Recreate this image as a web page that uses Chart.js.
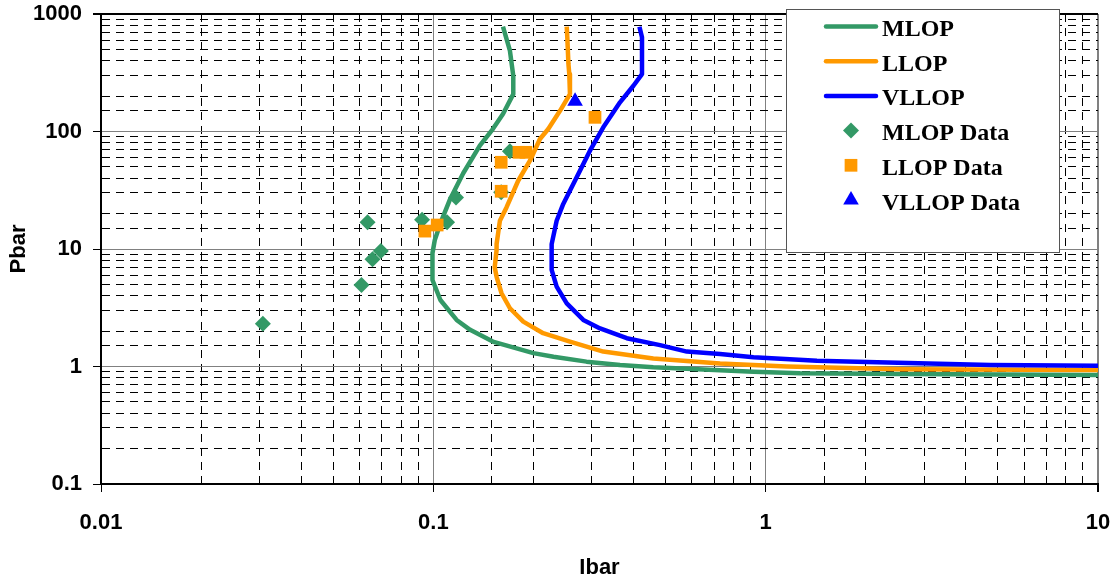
<!DOCTYPE html>
<html lang="en">
<head>
    <meta charset="UTF-8">
    <title>Pbar vs Ibar</title>
    <script src="https://cdn.jsdelivr.net/npm/chart.js"></script>
    <style>
        body {
            margin: 0;
            padding: 0;
            background: #fff;
        }
        .chart-container {
            position: relative;
            width: 1116px;
            height: 583px;
        }
    </style>
</head>
<body>
    <div class="chart-container">
        <canvas id="pbarChart"></canvas>
    </div>

    <script>
        // Model curves (Ibar on x, Pbar on y)
        const mlopIbar = [0.162, 0.170, 0.174, 0.174, 0.162, 0.151, 0.138, 0.123, 0.112, 0.105, 0.101, 0.0994, 0.0994, 0.105, 0.1175, 0.129, 0.151, 0.200, 0.230, 0.289, 0.3645, 0.459, 0.919, 1.27, 2.54, 10];
        const mlopPbar = [780, 487, 298, 208, 141, 105, 75.7, 44.1, 26.1, 16.5, 11.9, 9.2, 5.45, 3.68, 2.49, 2.05, 1.63, 1.30, 1.21, 1.10, 1.03, 0.984, 0.903, 0.875, 0.863, 0.847];

        const llopIbar = [0.252, 0.253, 0.255, 0.2565, 0.2577, 0.2405, 0.2217, 0.2093, 0.1953, 0.180, 0.166, 0.1586, 0.155, 0.155, 0.153, 0.155, 0.1604, 0.170, 0.1865, 0.214, 0.2577, 0.3246, 0.459, 0.729, 1.158, 2.54, 10];
        const llopPbar = [780, 634, 375, 308, 208, 150, 105, 86.3, 56.4, 38.1, 22.6, 17.4, 11.0, 9.8, 7.0, 5.8, 4.2, 3.13, 2.41, 1.92, 1.63, 1.34, 1.17, 1.06, 1.0, 0.946, 0.933];

        const vllopIbar = [0.417, 0.4245, 0.4245, 0.400, 0.3645, 0.3246, 0.296, 0.270, 0.246, 0.235, 0.227, 0.227, 0.227, 0.235, 0.252, 0.2827, 0.3175, 0.382, 0.481, 0.579, 0.729, 0.919, 1.426, 2.02, 4.75, 10];
        const vllopPbar = [780, 634, 308, 245, 177, 108.6, 68.7, 40.8, 24.2, 17.4, 11.0, 9.8, 6.63, 4.78, 3.45, 2.49, 2.11, 1.74, 1.52, 1.34, 1.28, 1.20, 1.12, 1.09, 1.03, 1.016];

        // Measured points
        const mlopDataIbar = [0.0307, 0.0608, 0.0656, 0.0695, 0.0634, 0.0925, 0.110, 0.117, 0.170, 0.160];
        const mlopDataPbar = [2.31, 4.94, 8.17, 9.6, 16.9, 17.7, 16.9, 27.5, 67.8, 30.4];

        const llopDataIbar = [0.0943, 0.1027, 0.160, 0.160, 0.181, 0.190, 0.3065];
        const llopDataPbar = [14.2, 16.0, 54.7, 31.0, 66.5, 66.5, 132];

        const vllopDataIbar = [0.267];
        const vllopDataPbar = [181];

        const xTickLabels = ['0.01', '0.1', '1', '10'];
        const yTickLabels = ['0.1', '1', '10', '100', '1000'];

        const green = '#339966';
        const orange = '#FF9900';
        const blue = '#0000FF';

        const pts = (xs, ys) => xs.map((x, i) => ({ x: x, y: ys[i] }));
        const fmt = v => String(+Number(v).toPrecision(6));
        const isMajor = v => Math.abs(Math.log10(v) - Math.round(Math.log10(v))) < 1e-6;

        const tickFont = { family: 'Liberation Sans, Arial, sans-serif', size: 22, weight: 'bold' };

        // Legend box drawn inside the plot, top right
        const legendItems = [
            { label: 'MLOP', color: green, kind: 'line' },
            { label: 'LLOP', color: orange, kind: 'line' },
            { label: 'VLLOP', color: blue, kind: 'line' },
            { label: 'MLOP Data', color: green, kind: 'rectRot', r: 8 },
            { label: 'LLOP Data', color: orange, kind: 'rect', r: 9 },
            { label: 'VLLOP Data', color: blue, kind: 'triangle', r: 9 }
        ];

        function drawMarker(ctx, kind, x, y, r) {
            ctx.beginPath();
            if (kind === 'rectRot') {
                ctx.moveTo(x - r, y);
                ctx.lineTo(x, y - r);
                ctx.lineTo(x + r, y);
                ctx.lineTo(x, y + r);
            } else if (kind === 'rect') {
                const s = r * Math.SQRT1_2;
                ctx.rect(x - s, y - s, 2 * s, 2 * s);
            } else {
                for (let k = 0; k < 3; k++) {
                    const a = k * 2 * Math.PI / 3;
                    const px = x + Math.sin(a) * r, py = y - Math.cos(a) * r;
                    if (k === 0) ctx.moveTo(px, py); else ctx.lineTo(px, py);
                }
            }
            ctx.closePath();
            ctx.fill();
        }

        const boxLegend = {
            id: 'boxLegend',
            afterDraw(chart) {
                const ctx = chart.ctx;
                ctx.save();
                ctx.fillStyle = '#fff';
                ctx.fillRect(786.5, 9.5, 273, 243);
                ctx.strokeStyle = '#555';
                ctx.lineWidth = 1;
                ctx.strokeRect(786.5, 9.5, 273, 243);

                ctx.font = 'bold 24px "Liberation Serif", "Times New Roman", serif';
                ctx.textAlign = 'left';
                ctx.textBaseline = 'alphabetic';
                legendItems.forEach((item, i) => {
                    const yy = 26.5 + 34.7 * i;
                    if (item.kind === 'line') {
                        ctx.strokeStyle = item.color;
                        ctx.lineWidth = 4.5;
                        ctx.lineCap = 'round';
                        ctx.beginPath();
                        ctx.moveTo(826, yy);
                        ctx.lineTo(876, yy);
                        ctx.stroke();
                    } else {
                        ctx.fillStyle = item.color;
                        drawMarker(ctx, item.kind, 851, yy, item.r);
                    }
                    ctx.fillStyle = '#000';
                    ctx.fillText(item.label, 882, yy + 9.5);
                });
                ctx.restore();
            }
        };

        const ctx1 = document.getElementById('pbarChart').getContext('2d');
        new Chart(ctx1, {
            type: 'scatter',
            data: {
                datasets: [
                    { label: 'MLOP', data: pts(mlopIbar, mlopPbar), showLine: true, borderColor: green, borderWidth: 4.5, pointRadius: 0, tension: 0, borderJoinStyle: 'round', order: 5 },
                    { label: 'LLOP', data: pts(llopIbar, llopPbar), showLine: true, borderColor: orange, borderWidth: 4.5, pointRadius: 0, tension: 0, borderJoinStyle: 'round', order: 4 },
                    { label: 'VLLOP', data: pts(vllopIbar, vllopPbar), showLine: true, borderColor: blue, borderWidth: 4.5, pointRadius: 0, tension: 0, borderJoinStyle: 'round', order: 3 },
                    { label: 'MLOP Data', data: pts(mlopDataIbar, mlopDataPbar), pointStyle: 'rectRot', pointRadius: 8, backgroundColor: green, borderWidth: 0, order: 2 },
                    { label: 'LLOP Data', data: pts(llopDataIbar, llopDataPbar), pointStyle: 'rect', pointRadius: 9, backgroundColor: orange, borderWidth: 0, order: 1 },
                    { label: 'VLLOP Data', data: pts(vllopDataIbar, vllopDataPbar), pointStyle: 'triangle', pointRadius: 9, backgroundColor: blue, borderWidth: 0, order: 0 }
                ]
            },
            options: {
                responsive: true,
                maintainAspectRatio: false,
                animation: false,
                layout: { padding: { top: 14, right: 18, left: 0, bottom: 0 } },
                plugins: {
                    legend: { display: false },
                    tooltip: { enabled: false }
                },
                scales: {
                    x: {
                        type: 'logarithmic',
                        min: 0.01,
                        max: 10,
                        afterFit: s => { s.height = 99; s.paddingLeft = 0; s.paddingRight = 0; },
                        title: { display: true, text: 'Ibar', color: '#000', font: tickFont, padding: { top: 4, bottom: 2 } },
                        ticks: {
                            autoSkip: false,
                            maxRotation: 0,
                            color: '#000',
                            font: tickFont,
                            padding: 18,
                            callback: v => xTickLabels.includes(fmt(v)) ? fmt(v) : ''
                        },
                        grid: {
                            color: c => (c.tick && isMajor(c.tick.value)) ? '#808080' : '#000',
                            lineWidth: c => (c.tick && fmt(c.tick.value) === '10') ? 2 : 1,
                            tickColor: c => (c.tick && isMajor(c.tick.value)) ? '#000' : 'rgba(0,0,0,0)',
                            tickLength: 8
                        },
                        border: {
                            color: '#000',
                            width: 2,
                            dash: c => (c.tick && !isMajor(c.tick.value)) ? [8, 6] : []
                        }
                    },
                    y: {
                        type: 'logarithmic',
                        min: 0.1,
                        max: 1000,
                        afterFit: s => { s.width = 101; s.paddingTop = 0; s.paddingBottom = 0; },
                        title: { display: true, text: 'Pbar', color: '#000', font: tickFont, padding: { top: 6, bottom: 4 } },
                        ticks: {
                            autoSkip: false,
                            color: '#000',
                            font: tickFont,
                            padding: 11,
                            callback: v => yTickLabels.includes(fmt(v)) ? fmt(v) : ''
                        },
                        grid: {
                            color: c => (c.tick && fmt(c.tick.value) === '1000') ? '#000' : (c.tick && isMajor(c.tick.value) ? '#808080' : '#000'),
                            lineWidth: c => (c.tick && fmt(c.tick.value) === '1000') ? 2 : 1,
                            tickColor: c => (c.tick && isMajor(c.tick.value)) ? '#000' : 'rgba(0,0,0,0)',
                            tickLength: 8
                        },
                        border: {
                            color: '#000',
                            width: 2,
                            dash: c => (c.tick && !isMajor(c.tick.value)) ? [8, 6] : []
                        }
                    }
                }
            },
            plugins: [boxLegend]
        });
    </script>
</body>
</html>
